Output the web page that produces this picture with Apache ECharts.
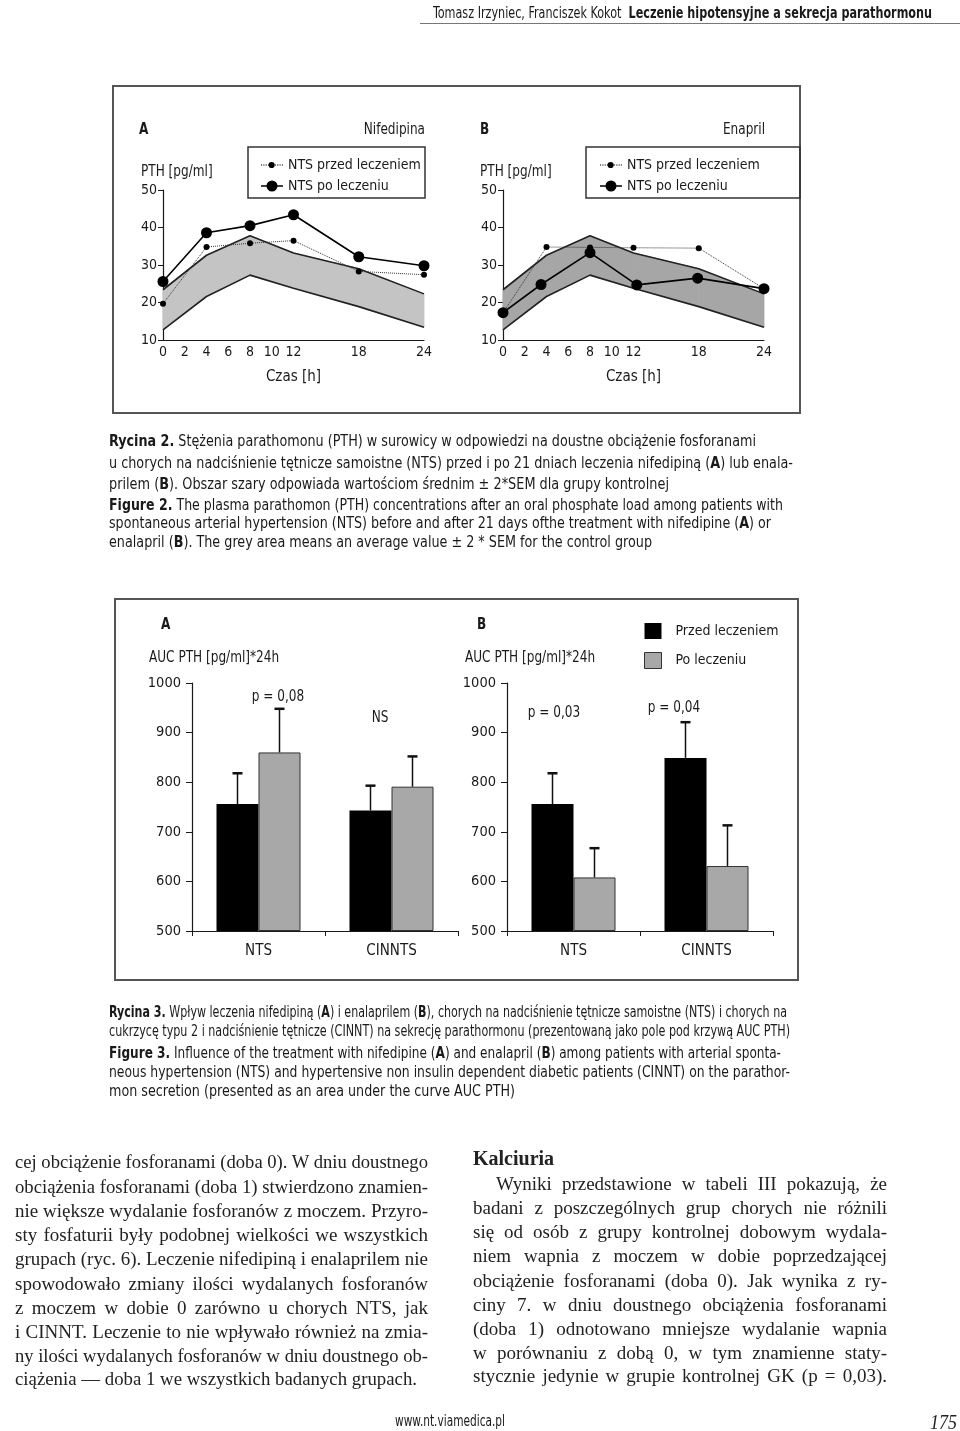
<!DOCTYPE html>
<html lang="pl"><head><meta charset="utf-8"><title>Rycina 2 i 3</title>
<script src="https://cdn.jsdelivr.net/npm/echarts@6/dist/echarts.min.js"></script>
<style>
html,body{margin:0;padding:0;background:#fff;}
#page{position:relative;width:960px;height:1431px;overflow:hidden;background:#fff;}
#chart{position:absolute;left:0;top:0;width:960px;height:1431px;}
.t{position:absolute;white-space:nowrap;transform-origin:0 50%;color:#1a1a1a;}
</style></head><body><div id="page"><div id="chart"></div></div>
<script>
// ---------------- data ----------------
const hourLabels = [0, 2, 4, 6, 8, 10, 12, 18, 24];
const bandHours = [0, 4, 8, 12, 18, 24];
const bandLower = [12.7, 21.6, 27.3, 23.8, 18.9, 13.4];
const bandUpper = [23.4, 32.6, 37.8, 33.2, 29.0, 22.3];

const nifHours = [0, 4, 8, 12, 18, 24];
const nifPrzed = [19.7, 34.8, 35.8, 36.5, 28.3, 27.4];
const nifPo = [25.6, 38.6, 40.5, 43.4, 32.2, 29.8];

const enaPrzedHours = [0, 4, 8, 12, 18, 24];
const enaPrzed = [17.2, 34.8, 34.7, 34.6, 34.5, 23.7];
const enaPoHours = [0, 3.5, 8, 12.3, 17.9, 24];
const enaPo = [17.3, 24.8, 33.3, 24.7, 26.5, 23.7];

const groups = ['NTS', 'CINNTS'];
const nifAucPrzed = [756, 743];
const nifAucPrzedErr = [62, 50];
const nifAucPo = [860, 791];
const nifAucPoErr = [88, 61];
const enaAucPrzed = [756, 849];
const enaAucPrzedErr = [62, 72];
const enaAucPo = [608, 631];
const enaAucPoErr = [59, 82];

const pTextsA = ['p = 0,08', 'NS'];
const pTextsB = ['p = 0,03', 'p = 0,04'];

// ---------------- style / layout ----------------
const SANS = "'Liberation Sans Narrow','Arial Narrow','DejaVu Sans Condensed','Roboto Condensed','Liberation Sans',sans-serif";
const SERIF = "'Liberation Serif','DejaVu Serif',serif";
const INK = '#1a1a1a';
const BAR_W = 42;
const AX_FS = 14;

function pairs(xs, ys) { return xs.map((x, i) => [x, ys[i]]); }

function dottedIcon() {
  let p = 'path://M0,0.5h0.01v0.01h-0.01Z M22,11.49h0.01v0.01h-0.01Z ';
  for (let x = 0; x < 22; x += 2.4) p += `M${x.toFixed(1)},5.5h1.2v1h-1.2Z `;
  p += 'M14.2,6A3.2,3.2,0,1,1,7.8,6A3.2,3.2,0,1,1,14.2,6Z';
  return p;
}
const ICON_PRZED = dottedIcon();
const ICON_PO = 'path://M0,0.5h0.01v0.01h-0.01Z M22,11.49h0.01v0.01h-0.01Z M0,5.25H22V6.75H0Z M16.5,6A5.5,5.5,0,1,1,5.5,6A5.5,5.5,0,1,1,16.5,6Z';
const ICON_SQ = 'path://M0,0H17V16H0Z';

function bandSeries(ax, fill) {
  const segs = bandHours.slice(0, -1).map((h, i) =>
    [h, bandLower[i], bandUpper[i], bandHours[i + 1], bandLower[i + 1], bandUpper[i + 1]]);
  const edge = { type: 'line', xAxisIndex: ax, yAxisIndex: ax, symbol: 'none', silent: true, z: 2,
    lineStyle: { color: '#222', width: 1.6 } };
  return [
    {
      type: 'custom', name: 'Grupa kontrolna', xAxisIndex: ax, yAxisIndex: ax, z: 1, silent: true,
      encode: { x: [0, 3], y: [1, 2, 4, 5] }, data: segs,
      renderItem(params, api) {
        const pts = [
          api.coord([api.value(0), api.value(1)]),
          api.coord([api.value(3), api.value(4)]),
          api.coord([api.value(3), api.value(5)]),
          api.coord([api.value(0), api.value(2)])
        ];
        return { type: 'polygon', shape: { points: pts }, style: { fill, stroke: fill, lineWidth: 0.8 } };
      }
    },
    Object.assign({ name: 'Kontrola - dolna granica', data: pairs(bandHours, bandLower) }, edge),
    Object.assign({ name: 'Kontrola - górna granica', data: pairs(bandHours, bandUpper) }, edge)
  ];
}

function lineSeries(ax, name, xs, ys, big) {
  return {
    type: 'line', name, xAxisIndex: ax, yAxisIndex: ax, data: pairs(xs, ys),
    symbol: 'circle', symbolSize: big ? 11 : 6, z: big ? 4 : 3,
    itemStyle: { color: '#000' },
    lineStyle: big ? { color: '#000', width: 1.6 } : { color: '#333', width: 1, type: 'dotted' }
  };
}

function barSeries(ax, name, vals, color, border) {
  return {
    type: 'bar', name, xAxisIndex: ax, yAxisIndex: ax, data: vals, barWidth: BAR_W, barGap: '0%',
    itemStyle: border ? { color, borderColor: '#333', borderWidth: 1 } : { color }, z: 2
  };
}

function errSeries(ax, vals, errs, side) {
  return {
    type: 'custom', xAxisIndex: ax, yAxisIndex: ax, z: 5, silent: true,
    encode: { x: 0, y: 1 },
    data: vals.map((v, i) => [i, v, v + errs[i]]),
    renderItem(params, api) {
      const b = api.coord([api.value(0), api.value(1)]);
      const t = api.coord([api.value(0), api.value(2)]);
      const x = b[0] + side * BAR_W / 2;
      return { type: 'group', children: [
        { type: 'line', shape: { x1: x, y1: b[1], x2: x, y2: t[1] }, style: { stroke: '#111', lineWidth: 1.5 } },
        { type: 'line', shape: { x1: x - 5, y1: t[1], x2: x + 5, y2: t[1] }, style: { stroke: '#111', lineWidth: 2.5 } }
      ] };
    }
  };
}

function hourAxis(gi) {
  return {
    gridIndex: gi, type: 'value', min: 0, max: 24, interval: 2,
    axisLine: { lineStyle: { color: INK, width: 1.2 } }, axisTick: { show: false }, splitLine: { show: false },
    axisLabel: { color: INK, fontFamily: SANS, fontSize: AX_FS, margin: 5,
      formatter: v => hourLabels.includes(v) ? String(v) : '' },
    name: 'Czas [h]', nameLocation: 'middle', nameGap: 30,
    nameTextStyle: { color: INK, fontFamily: SANS, fontSize: AX_FS + 1 }
  };
}
function pthAxis(gi) {
  return {
    gridIndex: gi, type: 'value', min: 10, max: 50, interval: 10,
    axisLine: { show: true, lineStyle: { color: INK, width: 1.2 } },
    axisTick: { show: true, length: 5, lineStyle: { color: INK } }, splitLine: { show: false },
    axisLabel: { color: INK, fontFamily: SANS, fontSize: AX_FS, margin: 6 }
  };
}
function groupAxis(gi) {
  return {
    gridIndex: gi, type: 'category', data: groups,
    axisLine: { lineStyle: { color: INK, width: 1.2 } },
    axisTick: { show: true, length: 5, lineStyle: { color: INK } },
    axisLabel: { color: INK, fontFamily: SANS, fontSize: AX_FS + 1, margin: 13 }
  };
}
function aucAxis(gi) {
  return {
    gridIndex: gi, type: 'value', min: 500, max: 1000, interval: 100, startValue: 500,
    axisLine: { show: true, lineStyle: { color: INK, width: 1.2 } },
    axisTick: { show: true, length: 6, lineStyle: { color: INK } }, splitLine: { show: false },
    axisLabel: { color: INK, fontFamily: SANS, fontSize: AX_FS + 0.5, margin: 11, formatter: v => String(v) }
  };
}

function txt(text, x, y, opt = {}) {
  return { type: 'text', x, y, z: 100, silent: true, scaleX: 0.84,
    style: { text, fill: INK, fontFamily: SANS, fontSize: opt.size || 16, fontWeight: opt.bold ? 'bold' : 'normal',
      align: opt.align || 'left', verticalAlign: 'middle' } };
}
function box(x, y, w, h, stroke, lw) {
  return { type: 'rect', z: 50, silent: true, shape: { x, y, width: w, height: h },
    style: { fill: 'none', stroke, lineWidth: lw } };
}

const lineLegend = (left) => ({
  data: [{ name: 'NTS przed leczeniem', icon: ICON_PRZED }, { name: 'NTS po leczeniu', icon: ICON_PO }],
  orient: 'vertical', left, top: 158, itemWidth: 22, itemHeight: 12, itemGap: 7, padding: 0,
  selectedMode: false, symbolKeepAspect: true, itemStyle: { borderWidth: 0 },
  textStyle: { color: INK, fontFamily: SANS, fontSize: AX_FS }
});

const option = {
  animation: false,
  backgroundColor: '#fff',
  grid: [
    { left: 163, top: 190, width: 261, height: 150 },
    { left: 503, top: 190, width: 261, height: 150 },
    { left: 192, top: 683, width: 266, height: 248 },
    { left: 507, top: 683, width: 266, height: 248 }
  ],
  xAxis: [hourAxis(0), hourAxis(1), groupAxis(2), groupAxis(3)],
  yAxis: [pthAxis(0), pthAxis(1), aucAxis(2), aucAxis(3)],
  legend: [
    lineLegend(261),
    lineLegend(600),
    {
      data: [{ name: 'Przed leczeniem', icon: ICON_SQ, itemStyle: { borderWidth: 0 } },
             { name: 'Po leczeniu', icon: ICON_SQ, itemStyle: { borderColor: '#333', borderWidth: 1 } }],
      orient: 'vertical', left: 644, top: 623, itemWidth: 17, itemHeight: 16, itemGap: 13, padding: 0,
      selectedMode: false, symbolKeepAspect: true,
      textStyle: { color: INK, fontFamily: SANS, fontSize: AX_FS, padding: [0, 0, 0, 9] }
    }
  ],
  series: [
    ...bandSeries(0, '#c4c4c4'),
    lineSeries(0, 'NTS przed leczeniem', nifHours, nifPrzed, false),
    lineSeries(0, 'NTS po leczeniu', nifHours, nifPo, true),
    ...bandSeries(1, '#a6a6a6'),
    lineSeries(1, 'NTS przed leczeniem', enaPrzedHours, enaPrzed, false),
    lineSeries(1, 'NTS po leczeniu', enaPoHours, enaPo, true),
    barSeries(2, 'Przed leczeniem', nifAucPrzed, '#000', false),
    barSeries(2, 'Po leczeniu', nifAucPo, '#a8a8a8', true),
    errSeries(2, nifAucPrzed, nifAucPrzedErr, -1),
    errSeries(2, nifAucPo, nifAucPoErr, 1),
    barSeries(3, 'Przed leczeniem', enaAucPrzed, '#000', false),
    barSeries(3, 'Po leczeniu', enaAucPo, '#a8a8a8', true),
    errSeries(3, enaAucPrzed, enaAucPrzedErr, -1),
    errSeries(3, enaAucPo, enaAucPoErr, 1)
  ],
  graphic: [
    { type: 'line', silent: true, shape: { x1: 420, y1: 23.5, x2: 960, y2: 23.5 }, style: { stroke: '#777', lineWidth: 1 } },
    box(113, 86, 687, 327, '#555', 2),
    box(248, 147, 177, 51, '#333', 1.5),
    box(586, 147, 214, 51, '#333', 1.5),
    box(115, 599, 683, 381, '#555', 2),
    txt('A', 139, 130, { bold: true }),
    txt('Nifedipina', 425, 130, { align: 'right' }),
    txt('PTH [pg/ml]', 141, 172),
    txt('B', 480, 130, { bold: true }),
    txt('Enapril', 765, 130, { align: 'right' }),
    txt('PTH [pg/ml]', 480, 172),
    txt('A', 161, 625, { bold: true }),
    txt('B', 477, 625, { bold: true }),
    txt('AUC PTH [pg/ml]*24h', 149, 658),
    txt('AUC PTH [pg/ml]*24h', 465, 658),
    txt(pTextsA[0], 278, 697, { align: 'center' }),
    txt(pTextsA[1], 380, 718, { align: 'center' }),
    txt(pTextsB[0], 554, 713, { align: 'center' }),
    txt(pTextsB[1], 674, 708, { align: 'center' })
  ]
};

const chart = echarts.init(document.getElementById('chart'), null, { renderer: 'canvas' });
chart.setOption(option);

// ---------------- page text ----------------
const page = document.getElementById('page');
function put(html, x, yc, opt) {
  const d = document.createElement('div');
  d.className = 't';
  d.style.fontFamily = opt.family;
  d.style.fontSize = opt.size + 'px';
  d.style.fontWeight = opt.weight || 400;
  d.style.fontStyle = opt.italic ? 'italic' : 'normal';
  d.style.fontStretch = opt.stretch || 'normal';
  d.style.color = opt.color || INK;
  d.style.lineHeight = Math.round(opt.size * 1.3) + 'px';
  d.innerHTML = html;
  page.appendChild(d);
  const h = d.offsetHeight;
  d.style.left = x + 'px';
  d.style.top = (yc - h / 2) + 'px';
  if (opt.w) {
    const nat = d.getBoundingClientRect().width;
    const spaces = (d.textContent.match(/ /g) || []).length;
    if (opt.justify && nat < opt.w && spaces) {
      d.style.wordSpacing = ((opt.w - nat) / spaces) + 'px';
    } else {
      d.style.transform = `scaleX(${opt.w / nat})`;
    }
  }
  return d;
}

const capOpt = { family: SANS, size: 15, stretch: 'condensed' };
put('Tomasz Irzyniec, Franciszek Kokot&nbsp; <b>Leczenie hipotensyjne a sekrecja parathormonu</b>', 433, 12,
  Object.assign({}, capOpt, { size: 16, w: 499 }));

const cap2 = [
  ['<b>Rycina 2.</b> Stężenia parathomonu (PTH) w surowicy w odpowiedzi na doustne obciążenie fosforanami', 441, 756],
  ['u chorych na nadciśnienie tętnicze samoistne (NTS) przed i po 21 dniach leczenia nifedipiną (<b>A</b>) lub enala-', 463, 793],
  ['prilem (<b>B</b>). Obszar szary odpowiada wartościom średnim ± 2*SEM dla grupy kontrolnej', 484, 669],
  ['<b>Figure 2.</b> The plasma parathomon (PTH) concentrations after an oral phosphate load among patients with', 505, 783],
  ['spontaneous arterial hypertension (NTS) before and after 21 days ofthe treatment with nifedipine (<b>A</b>) or', 523, 771],
  ['enalapril (<b>B</b>). The grey area means an average value ± 2 * SEM for the control group', 542, 652],
  ['<b>Rycina 3.</b> Wpływ leczenia nifedipiną (<b>A</b>) i enalaprilem (<b>B</b>), chorych na nadciśnienie tętnicze samoistne (NTS) i chorych na', 1012, 787],
  ['cukrzycę typu 2 i nadciśnienie tętnicze (CINNT) na sekrecję parathormonu (prezentowaną jako pole pod krzywą AUC PTH)', 1031, 790],
  ['<b>Figure 3.</b> Influence of the treatment with nifedipine (<b>A</b>) and enalapril (<b>B</b>) among patients with arterial sponta-', 1053, 781],
  ['neous hypertension (NTS) and hypertensive non insulin dependent diabetic patients (CINNT) on the parathor-', 1072, 790],
  ['mon secretion (presented as an area under the curve AUC PTH)', 1091, 515]
];
cap2.forEach(([h, y, r]) => put(h, 109, y, Object.assign({}, capOpt, { w: r - 109 })));

const bodyOpt = { family: SERIF, size: 19, color: '#222', justify: true };
const leftCol = [
  'cej obciążenie fosforanami (doba 0). W dniu doustnego',
  'obciążenia fosforanami (doba 1) stwierdzono znamien-',
  'nie większe wydalanie fosforanów z moczem. Przyro-',
  'sty fosfaturii były podobnej wielkości we wszystkich',
  'grupach (ryc. 6). Leczenie nifedipiną i enalaprilem nie',
  'spowodowało zmiany ilości wydalanych fosforanów',
  'z moczem w dobie 0 zarówno u chorych NTS, jak',
  'i CINNT. Leczenie to nie wpływało również na zmia-',
  'ny ilości wydalanych fosforanów w dniu doustnego ob-',
  'ciążenia — doba 1 we wszystkich badanych grupach.'
];
const leftY = [1161, 1186, 1210, 1234, 1258, 1283, 1307, 1331, 1355, 1378];
const leftR = [428, 428, 428, 428, 428, 428, 428, 428, 428, 417];
leftCol.forEach((s, i) => put(s, 15, leftY[i], Object.assign({}, bodyOpt, { w: leftR[i] - 15 })));

put('Kalciuria', 473, 1158, { family: SERIF, size: 20, weight: 700, color: '#222' });
const rightCol = [
  'Wyniki przedstawione w tabeli III pokazują, że',
  'badani z poszczególnych grup chorych nie różnili',
  'się od osób z grupy kontrolnej dobowym wydala-',
  'niem wapnia z moczem w dobie poprzedzającej',
  'obciążenie fosforanami (doba 0). Jak wynika z ry-',
  'ciny 7. w dniu doustnego obciążenia fosforanami',
  '(doba 1) odnotowano mniejsze wydalanie wapnia',
  'w porównaniu z dobą 0, w tym znamienne staty-',
  'stycznie jedynie w grupie kontrolnej GK (p = 0,03).'
];
const rightY = [1183, 1207, 1231, 1255, 1280, 1304, 1328, 1352, 1375];
rightCol.forEach((s, i) => {
  const x = i === 0 ? 496 : 473;
  put(s, x, rightY[i], Object.assign({}, bodyOpt, { w: 887 - x }));
});

put('www.nt.viamedica.pl', 395, 1421, Object.assign({}, capOpt, { w: 110 }));
put('175', 930, 1421, { family: SERIF, size: 22, italic: true, color: '#222', w: 27 });
</script></body></html>
